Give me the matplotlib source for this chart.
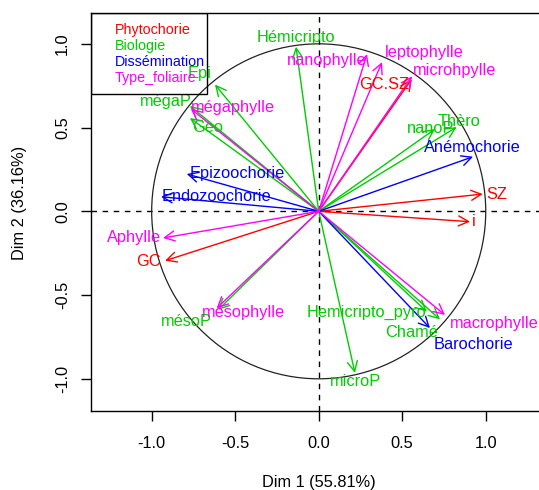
import matplotlib
matplotlib.use("Agg")
import matplotlib.pyplot as plt
from matplotlib.patches import Circle, Rectangle
from matplotlib.lines import Line2D

plt.rcParams['font.family'] = ['Liberation Sans', 'DejaVu Sans']

# coordonnees des variables (cercle des correlations)
groups = ["Phytochorie", "Biologie", "Dissémination", "Type_foliaire"]
group_colors = ["#FF0000", "#00CD00", "#0000FF", "#FF00FF"]

phyto_names = ["GC.SZ", "SZ", "i", "GC"]
phyto_x = [0.557, 0.982, 0.906, -0.920]
phyto_y = [0.789, 0.103, -0.062, -0.295]

bio_names = ["Hémicripto", "Epi", "mégaP", "Geo", "nanoP", "Thèro",
             "Hemicripto_pyro", "Chamé", "microP", "mésoP"]
bio_x = [-0.136, -0.621, -0.771, -0.771, 0.696, 0.826, 0.647, 0.726, 0.217, -0.603]
bio_y = [0.983, 0.757, 0.629, 0.557, 0.491, 0.503, -0.599, -0.645, -0.965, -0.589]

diss_names = ["Anémochorie", "Epizoochorie", "Endozoochorie", "Barochorie"]
diss_x = [0.924, -0.790, -0.944, 0.666]
diss_y = [0.326, 0.223, 0.087, -0.697]

foli_names = ["nanophylle", "leptophylle", "microhpylle", "mégaphylle",
              "Aphylle", "mésophylle", "macrophylle"]
foli_x = [0.289, 0.379, 0.559, -0.765, -0.932, -0.611, 0.756]
foli_y = [0.939, 0.891, 0.807, 0.611, -0.159, -0.579, -0.619]

dim1_pct = 55.81
dim2_pct = 36.16

# decalage des etiquettes (pixels) par rapport au bout de la fleche
label_offsets = {
    "GC.SZ": (-28, -5), "SZ": (14, 0), "i": (4, 0), "GC": (-17, -1),
    "Hémicripto": (0, 9), "Epi": (-15, 11), "mégaP": (-24, 4), "Geo": (18, -9),
    "nanoP": (-4, 1), "Thèro": (2, 6), "Hemicripto_pyro": (-60, -1),
    "Chamé": (-28, -13), "microP": (1, -9), "mésoP": (-32, -12),
    "Anémochorie": (-1, 9), "Epizoochorie": (50, 0), "Endozoochorie": (55, 0),
    "Barochorie": (43, -16),
    "nanophylle": (-40, -6), "leptophylle": (42, 10), "microhpylle": (43, 6),
    "mégaphylle": (42, 1), "Aphylle": (-29, 0), "mésophylle": (27, -4),
    "macrophylle": (49, -8),
}

fig = plt.figure(figsize=(5.39, 4.90), dpi=100)
ax = fig.add_axes([0.1683, 0.1618, 0.8460, 0.8122])
ax.set_xlim(-1.365, 1.365)
ax.set_ylim(-1.1905, 1.1857)

# axes en pointilles + cercle unite
ax.axhline(0, color="black", lw=1, ls=(0, (4, 4)), zorder=1)
ax.axvline(0, color="black", lw=1, ls=(0, (4, 4)), zorder=1)
ax.add_patch(Circle((0, 0), 1, fill=False, color="#222222", lw=0.9, zorder=1))

all_sets = [(phyto_names, phyto_x, phyto_y),
            (bio_names, bio_x, bio_y),
            (diss_names, diss_x, diss_y),
            (foli_names, foli_x, foli_y)]

for (names, xs, ys), col in zip(all_sets, group_colors):
    for nm, x, y in zip(names, xs, ys):
        ax.annotate("", xy=(x, y), xytext=(0, 0),
                    arrowprops=dict(arrowstyle="->,head_length=0.6,head_width=0.3",
                                    color=col, lw=1, shrinkA=0, shrinkB=0,
                                    mutation_scale=12), zorder=2)
    for nm, x, y in zip(names, xs, ys):
        ax.annotate(nm, xy=(x, y), xytext=label_offsets[nm],
                    textcoords="offset pixels", ha="center", va="center",
                    color=col, fontsize=11.8, zorder=3)

ticks = [-1.0, -0.5, 0.0, 0.5, 1.0]
ax.set_xticks(ticks)
ax.set_yticks(ticks)
ax.set_xticklabels(["%.1f" % t for t in ticks])
ax.set_yticklabels(["%.1f" % t for t in ticks], rotation=90, va="center")
ax.tick_params(axis="both", length=7, width=1, labelsize=11.8, direction="out")
ax.tick_params(axis="x", pad=11)
ax.tick_params(axis="y", pad=8)
for s in ax.spines.values():
    s.set_linewidth(1)

fig.text(318.7 / 539, 1 - 482 / 490, "Dim 1 (%.2f%%)" % dim1_pct,
         ha="center", va="center", fontsize=11.8)
fig.text(20 / 539, 1 - 203 / 490, "Dim 2 (%.2f%%)" % dim2_pct,
         ha="center", va="center", rotation=90, fontsize=11.8)

# legende transparente (style R) avec cadre
handles = [Line2D([], [], color="none") for g in groups]
leg = ax.legend(handles, groups, loc="upper left", borderaxespad=0,
                fontsize=10.3, labelcolor=group_colors, frameon=False,
                handlelength=0.5, handletextpad=0.45, borderpad=0.75,
                labelspacing=0.12)
leg.set_zorder(4)
ax.add_patch(Rectangle((0, 1 - 0.205), 0.254, 0.205, transform=ax.transAxes,
                       fill=False, edgecolor="black", lw=1, zorder=4))

fig.savefig("out.png", dpi=100)
